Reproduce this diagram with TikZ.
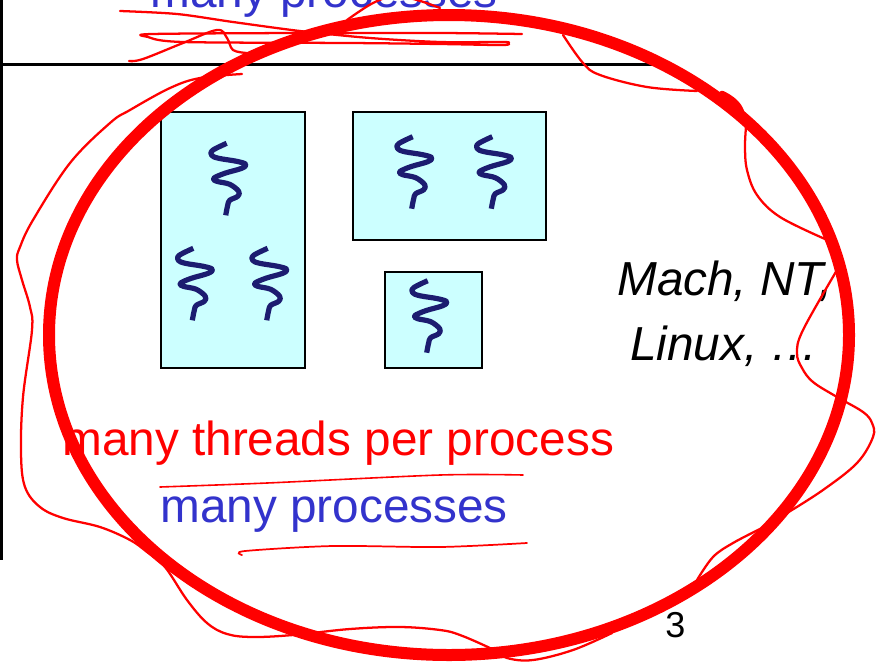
\documentclass[tikz,border=0pt]{standalone}
\usepackage{fontspec}
\setmainfont{Liberation Sans}
\definecolor{boxcyan}{HTML}{CCFFFF}
\definecolor{threadblue}{HTML}{1C1C70}
\definecolor{textblue}{HTML}{3333CC}
\tikzset{
  procbox/.style={draw=black,line width=2pt,fill=boxcyan,inner sep=0pt,rectangle},
  thread/.pic={\draw[threadblue,line width=3.9pt,line join=round] plot[smooth,tension=0.6] coordinates {(0,0) (-14,7) (-15,12) (-8,15) (10,18) (19,21) (15,25) (-2,30) (-13,35) (-10,38) (3,41) (12,48) (11,53) (3,57) (1,62) (-1,72)};},
  ink/.style={red,line width=1.7pt,line cap=round,line join=round},
  label/.style={inner sep=0pt,anchor=base west,font=\fontsize{35.8pt}{40pt}\selectfont},
}
\begin{document}
\begin{tikzpicture}[x=0.75pt,y=-0.75pt]
\useasboundingbox (0,0) rectangle (877,661);
\clip (0,0) rectangle (877,661);
\fill[white] (0,0) rectangle (877,661);
% slide frame
\coordinate (frameTop) at (1.5,0);
\coordinate (frameBot) at (1.5,560);
\coordinate (ruleL) at (0,64.5);
\coordinate (ruleR) at (672,64.5);
\draw[black,line width=2.4pt] (frameTop) -- (frameBot);
\draw[black,line width=1.9pt] (ruleL) -- (ruleR);
% boxes
\node[procbox,minimum width=108pt,minimum height=192pt] (boxA) at (233,240) {};
\node[procbox,minimum width=144.75pt,minimum height=96pt] (boxB) at (449.5,176) {};
\node[procbox,minimum width=72.75pt,minimum height=72pt] (boxC) at (433.5,320) {};
% threads
\pic at (226.7,143.3) {thread};
\pic at (193.3,248.3) {thread};
\pic at (267.7,248.3) {thread};
\pic at (412.7,136.7) {thread};
\pic at (492.3,136.7) {thread};
\pic at (427.7,280.7) {thread};
% texts
\node[label,text=textblue] (topText) at (150,7) {many processes};
\node[label,text=red] (redText) at (62,455) {many threads per process};
\node[label,text=textblue] (blueText) at (160,522) {many processes};
\node[label,font=\fontsize{35.8pt}{40pt}\selectfont\itshape] (osA) at (617,295) {Mach, NT,};
\node[label,font=\fontsize{35.8pt}{40pt}\selectfont\itshape] (osB) at (630,360) {Linux, …};
\node[label,font=\fontsize{27pt}{30pt}\selectfont] (pageNo) at (665,637) {3};
% big circle
\draw[red,line width=9pt] (449,335) ellipse [x radius=400,y radius=320];
\draw[red,line width=5pt,line cap=round] (722,94) .. controls (732,99) and (738,104) .. (741,112);
% outer hand-drawn loop
\draw[ink] plot[smooth,tension=0.6] coordinates {(242,74) (200,78) (170,88) (130,110) (110,123) (70,163) (33,220) (20,247) (17,260) (22,280) (30,307) (32,330) (23,397) (21,453) (25,487) (40,507) (63,518) (100,527) (130,540) (147,552) (165,567) (187,600) (207,623) (227,634) (253,637) (293,635) (350,629) (400,627) (440,630) (460,635) (492,649) (507,658) (533,660) (573,650) (612,633)};
\draw[ink] plot[smooth,tension=0.6] coordinates {(697,580) (713,557) (733,543) (762,528)};
\draw[ink] plot[smooth,tension=0.6] coordinates {(787,513) (823,490) (857,463) (873,437) (872,423) (863,412) (837,397) (813,382) (802,368) (797,353) (803,330) (837,270)};
\draw[ink] plot[smooth,tension=0.6] coordinates {(825,239) (780,217) (757,195) (747,170) (745,147) (746,127)};
\draw[ink] plot[smooth,tension=0.6] coordinates {(697,91) (647,87) (600,75) (583,63) (563,35)};
% top scribbles
\draw[ink] plot[smooth,tension=0.5] coordinates {(120,11) (177,14) (233,22) (300,31) (370,38) (440,42) (503,42) (508,43) (503,45) (440,44) (350,43) (183,42) (148,37) (152,34) (300,33) (440,33) (522,34)};
\draw[ink] plot[smooth,tension=0.6] coordinates {(129,61) (143,59) (183,43) (217,30) (227,38) (233,50) (247,53)};
\draw[ink] plot[smooth,tension=0.6] coordinates {(347,20) (373,3) (395,-4) (417,0) (440,8)};
% underlines
\draw[red,line width=1.2pt,line cap=round] plot[smooth,tension=0.5] coordinates {(160,487) (267,483) (440,475) (523,475)};
\draw[red,line width=1.3pt,line cap=round] plot[smooth,tension=0.5] coordinates {(242,555) (245,551) (333,546) (440,547) (527,543)};
\end{tikzpicture}
\end{document}
